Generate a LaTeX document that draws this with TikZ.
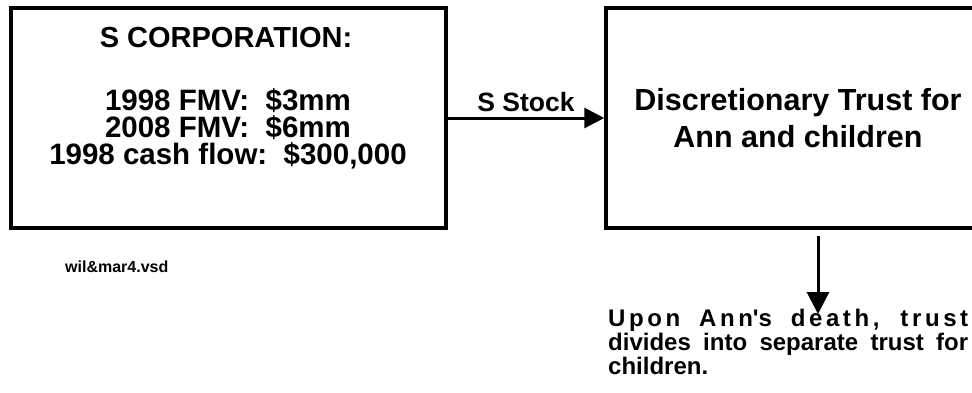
\documentclass[tikz,border=0pt]{standalone}
\usepackage{fontspec}
\setmainfont{Liberation Sans}
\usetikzlibrary{arrows.meta}

\begin{document}
\begin{tikzpicture}[x=1pt, y=-1pt,
      entity/.style={rectangle, draw=black, line width=3.5pt,
        minimum width=435pt, minimum height=220pt},
      txt/.style={inner sep=0pt, align=center, font=\bfseries},
      arr/.style={-{Triangle[length=20pt,width=20pt]}, line width=3pt}
    ]
      \useasboundingbox (0,0) rectangle (972,392);
      % the two boxes (the trust box runs off the right edge)
      \node[entity] (corp) at (228.5,118) {};
      \node[entity, txt, minimum width=384pt, minimum height=220pt,
        font=\fontsize{30.5}{37}\selectfont\bfseries] (trust) at (798,118)
        {Discretionary Trust for\\Ann and children};
      \node[txt, font=\fontsize{29}{29}\selectfont\bfseries, anchor=base] (corphead) at (226,47) {S CORPORATION:};
      \node[txt, font=\fontsize{29.5}{27}\selectfont\bfseries] (corpfig) at (228,129)
        {1998 FMV:~~\$3mm\\2008 FMV:~~\$6mm\\1998 cash flow:~~\$300,000};
      \node[txt, font=\fontsize{16}{16}\selectfont\bfseries, anchor=base west] (fname) at (65,272) {wil\&mar4.vsd};
      \node[inner sep=0pt, align=left, anchor=north west,
        font=\fontsize{24}{24}\selectfont\bfseries] (note) at (608,309)
        {\makebox[360pt][s]{\addfontfeatures{LetterSpace=15}Upon Ann\textquotesingle s death, trust}\\
         \makebox[360pt][s]{divides into separate trust for}\\
         children.};
      % transfer of the stock
      \draw[arr] (corp.east) -- node[txt, font=\fontsize{26.5}{26.5}\selectfont\bfseries, above=5pt] (stock) {S Stock} (trust.west);
      % split on death
      \coordinate (drop) at (818,236);
      \coordinate (droptip) at (drop |- note.north);
      \draw[-{Triangle[length=22pt,width=22pt]}, line width=3pt] (drop) -- ([yshift=-5pt]droptip);
\end{tikzpicture}
\end{document}
